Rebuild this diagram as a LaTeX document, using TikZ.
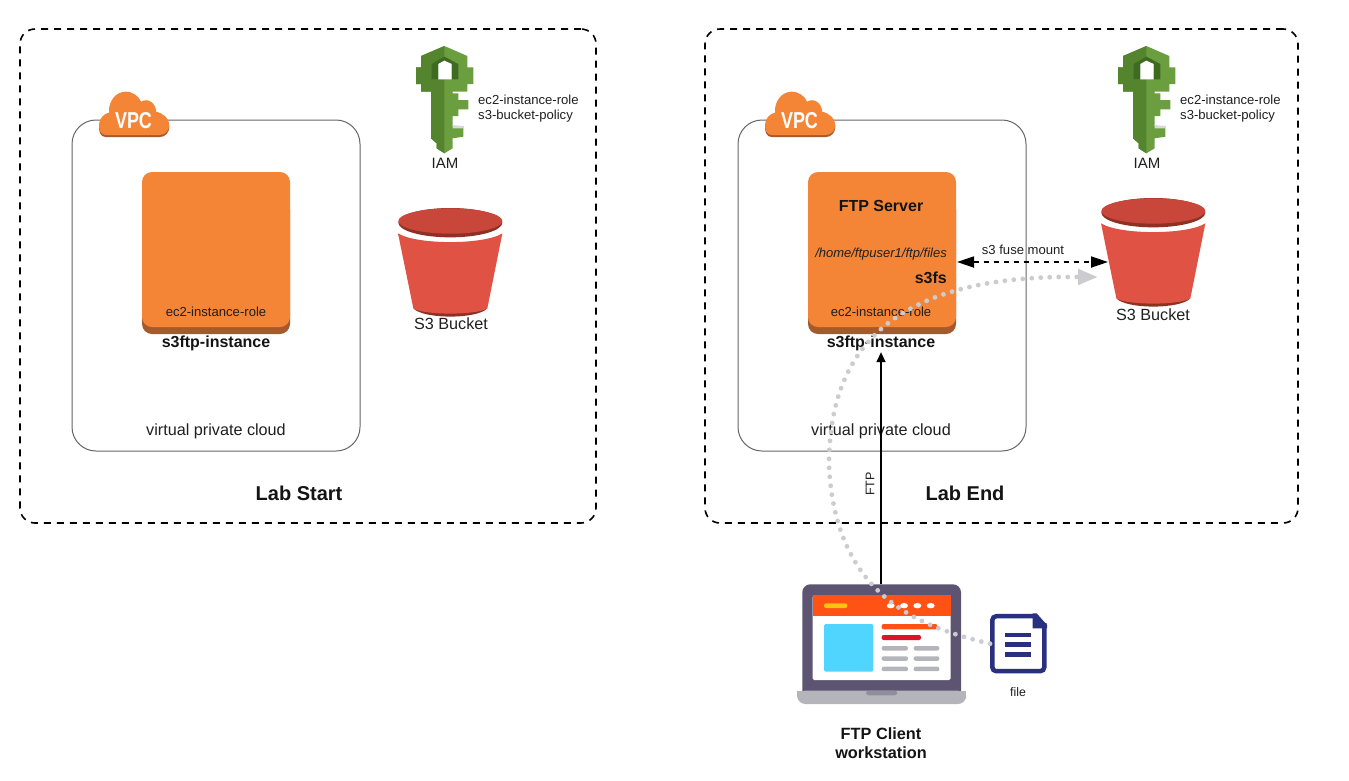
\documentclass[tikz,border=0pt]{standalone}
\usepackage{fontspec}
\setmainfont{Liberation Sans}
\usetikzlibrary{arrows.meta}
\definecolor{orangeA}{HTML}{F58536}
\definecolor{orangeD}{HTML}{A55A2E}
\definecolor{redA}{HTML}{E05243}
\definecolor{redB}{HTML}{C9463A}
\definecolor{redD}{HTML}{8C3123}
\definecolor{greenL}{HTML}{6B9E3F}
\definecolor{greenD}{HTML}{55842F}
\definecolor{greenX}{HTML}{3F6A22}
\definecolor{lapDark}{HTML}{5C5470}
\definecolor{lapGray}{HTML}{B4B5BA}
\definecolor{lapNotch}{HTML}{8F8E9C}
\definecolor{lapRed}{HTML}{FF5214}
\definecolor{lapYel}{HTML}{FFC20E}
\definecolor{lapBlue}{HTML}{4FD5FF}
\definecolor{lapCrim}{HTML}{D9142B}
\definecolor{navy}{HTML}{28307F}
\definecolor{dots}{HTML}{CCCCD0}
\newcommand{\fs}[1]{\fontsize{#1}{#1}\selectfont}
\newcommand{\cloudpath}{(137,165) .. controls (122,165) and (117,150) .. (117,135) .. controls (117,115) and (133,100) .. (147,98) .. controls (145,60) and (170,35) .. (197,35) .. controls (220,35) and (237,50) .. (243,65) .. controls (265,52) and (288,70) .. (288,95) .. controls (310,100) and (328,115) .. (328,135) .. controls (328,152) and (315,165) .. (300,165) -- cycle}
\tikzset{
  frame/.style={draw=black,line width=1.6pt,dash pattern=on 7pt off 6pt,rounded corners=15pt,minimum width=#1,minimum height=494pt,inner sep=0pt},
  vpcbox/.style={draw=black!60,line width=1pt,rounded corners=24pt,minimum width=288pt,minimum height=331pt,inner sep=0pt},
  srvbox/.style={fill=orangeA,rounded corners=10pt,minimum width=148pt,minimum height=156pt,inner sep=0pt},
  lbl/.style={text=black!88,inner sep=1pt,font=\fs{16.2}},
  small/.style={text=black!88,inner sep=1pt,font=\fs{13.1}},
  bold/.style={text=black!92,inner sep=1pt,font=\fs{16}\bfseries},
  title/.style={text=black!92,inner sep=1pt,font=\fs{20}\bfseries},
  keyicon/.pic={
    \begin{scope}[scale=1/3]
      \fill[greenL] (123,48)--(193,18)--(262,48)--(262,82)--(280,82)--(280,132)--(262,132)--(262,155)--(218,155)--(218,160)--(235,160)--(235,180)--(265,180)--(265,208)--(235,208)--(235,228)--(218,228)--(218,258)--(250,258)--(250,290)--(218,295)--(218,325)--(193,340)--(170,325)--(170,310)--(153,295)--(153,155)--(123,155)--(123,132)--(108,132)--(108,82)--(123,82)--cycle;
      \fill[greenD] (123,48)--(193,18)--(193,50)--(160,70)--(160,118)--(193,118)--(193,340)--(170,325)--(170,310)--(153,295)--(153,155)--(123,155)--(123,132)--(108,132)--(108,82)--(123,82)--cycle;
      \fill[greenX] (155,72)--(193,50)--(235,72)--(235,118)--(215,118)--(215,72)--(193,62)--(175,72)--(175,118)--(155,118)--cycle;
      \fill[white] (175,72)--(193,62)--(215,72)--(215,118)--(175,118)--cycle;
      \fill[black!15] (218,255)--(250,258)--(250,265)--(218,265)--cycle;
    \end{scope}
  },
  bucketicon/.pic={
    \begin{scope}[scale=1/3]
      \fill[redD] (100,325) .. controls (130,358) and (292,358) .. (322,325) -- cycle;
      \fill[redA] (54,100) .. controls (110,135) and (312,135) .. (367,100) -- (322,325) .. controls (292,346) and (130,346) .. (100,325) -- cycle;
      \fill[redD] (211,68) ellipse [x radius=156, y radius=44];
      \fill[redB] (211,63) ellipse [x radius=156, y radius=38];
      \draw[white,line width=1.6pt] (54,92) .. controls (110,128) and (312,128) .. (367,92);
    \end{scope}
  },
  cloudicon/.pic={
    \begin{scope}[scale=1/3]
      \fill[orangeD,shift={(0,6)}] \cloudpath;
      \fill[orangeA] \cloudpath;
    \end{scope}
  },
  pill/.style={rounded corners=2pt}
}
\begin{document}
\begin{tikzpicture}[x=1pt,y=-1pt]
\useasboundingbox (0,0) rectangle (1349,780);
% frames
\node[frame=576pt] (frameL) at (308,276) {};
\node[frame=593pt] (frameR) at (1001.5,276) {};
% vpc boxes
\node[vpcbox] (vpcL) at (216,285.5) {};
\node[vpcbox] (vpcR) at (882,285.5) {};
\pic at (60,80) {cloudicon};
\pic at (726,80) {cloudicon};
\node[white,font=\fs{23}\bfseries,inner sep=0pt] (vpctL) at (133.5,120.5) {\scalebox{.78}[1]{VPC}};
\node[white,font=\fs{23}\bfseries,inner sep=0pt] (vpctR) at (799.5,120.5) {\scalebox{.78}[1]{VPC}};
% left instance
\fill[orangeD,rounded corners=10pt] (142,200) rectangle (290,334);
\node[srvbox,minimum height=155pt] (srvL) at (216,249.5) {};
\node[small] (roleL) at (216,311.5) {ec2-instance-role};
\node[bold] (instL) at (216,343.5) {s3ftp-instance};
\node[lbl] (cloudL) at (216,431.5) {virtual private cloud};
\node[title] (labL) at (299,493.5) {Lab Start};
% right instance
\fill[orangeD,rounded corners=10pt] (808,200) rectangle (956,334);
\node[srvbox,minimum height=155pt] (srvR) at (882,249.5) {};
\node[bold] (ftps) at (881,206) {FTP Server};
\node[small,font=\fs{13}\itshape] (path) at (881,254) {/home/ftpuser1/ftp/files};
\node[bold,anchor=east] (s3fs) at (948,278) {s3fs};
\node[small] (roleR) at (881,311.5) {ec2-instance-role};
\node[bold] (instR) at (881,343.5) {s3ftp-instance};
\node[lbl] (cloudR) at (881,431.5) {virtual private cloud};
\node[title] (labR) at (965,493.5) {Lab End};
% IAM
\pic at (380,40) {keyicon};
\pic at (1082,40) {keyicon};
\node[lbl,font=\fs{15}] (iamL) at (445,163) {IAM};
\node[lbl,font=\fs{15}] (iamR) at (1147,163) {IAM};
\node[small,anchor=west,align=left] (polL) at (477,108.5) {ec2-instance-role\\[1.8pt]s3-bucket-policy};
\node[small,anchor=west,align=left] (polR) at (1179,108.5) {ec2-instance-role\\[1.8pt]s3-bucket-policy};
% buckets
\pic at (380,200) {bucketicon};
\pic at (1083,190) {bucketicon};
\node[lbl] (bL) at (451,324) {S3 Bucket};
\node[lbl] (bR) at (1153,315) {S3 Bucket};
\coordinate (fuseL) at (957,262);
\coordinate (fuseR) at (1108,262);
\draw[line width=1.8pt,dash pattern=on 5pt off 5pt,{Triangle[length=17pt,width=11pt]}-{Triangle[length=17pt,width=11pt]}] (fuseL) -- (fuseR);
\node[small] (fuse) at (1023,250) {s3 fuse mount};
% laptop
\fill[lapDark,rounded corners=8pt] (802.3,584.3) rectangle (961,700);
\begin{scope}[shift={(790,570)},scale=1/3]
  \fill[lapGray,rounded corners=8pt] (22,362) rectangle (528,402);
  \fill[lapGray] (22,362) rectangle (528,380);
  \fill[white,rounded corners=1.5pt] (68,76) rectangle (482,330);
  \fill[lapNotch,rounded corners=3pt] (228,362) rectangle (322,376);
\end{scope}
\node[minimum width=158.7pt,minimum height=106.7pt,inner sep=0pt] (laptop) at (881.7,637.6) {};
\begin{scope}[shift={(790,570)},scale=1/3]
  \fill[lapRed] (68,76) rectangle (482,138);
  \fill[lapYel,pill] (102,100) rectangle (172,114);
  \foreach \cx in {302,342,382,422} \fill[white] (\cx,107) ellipse [x radius=12,y radius=8];
  \fill[lapBlue,rounded corners=1.5pt] (102,162) rectangle (250,305);
  \fill[lapRed,pill] (275,162) rectangle (442,178);
  \fill[lapCrim,pill] (275,195) rectangle (393,210);
  \foreach \cy in {228,259,290} {
    \fill[lapGray,pill] (275,\cy) rectangle (354,\cy+13.5);
    \fill[lapGray,pill] (371,\cy) rectangle (448,\cy+13.5);
  }
\end{scope}
\node[bold,font=\fs{16.3}\bfseries,align=center] (client) at (881,743) {FTP Client\\[3pt]workstation};
% file icon
\node[draw=navy,line width=4.5pt,rounded corners=4pt,minimum width=52pt,minimum height=55pt,inner sep=0pt] (file) at (1018.3,643.7) {};
\begin{scope}[shift={(790,570)},scale=1/3]
  \fill[white] (735,124) rectangle (780,160);
  \fill[navy] (728,130) -- (740,130) -- (771,165) -- (771,175) -- (728,175) -- cycle;
  \fill[navy] (645,190) rectangle (723,202);
  \fill[navy] (645,217) rectangle (723,231);
  \fill[navy] (645,246) rectangle (723,260);
\end{scope}
\node[small,font=\fs{12.3}] (filet) at (1018,692.5) {file};
% connectors
\draw[line width=1.4pt,-{Triangle[length=10pt,width=9pt]}] (laptop.north -| instR) -- (instR.south);
\node[small,rotate=90,font=\fs{12.5}] (ftp) at (870,484) {FTP};
\coordinate (dotEnd) at (1098,277);
\draw[dots,line width=4.8pt,line cap=round,dash pattern=on 0pt off 9pt,-{Triangle[length=20pt,width=15pt]}]
  (file.west) .. controls (925,628) and (835,600) .. (829,465)
  .. controls (829,360) and (880,280) .. (1060,277) -- (dotEnd);
\end{tikzpicture}
\end{document}
